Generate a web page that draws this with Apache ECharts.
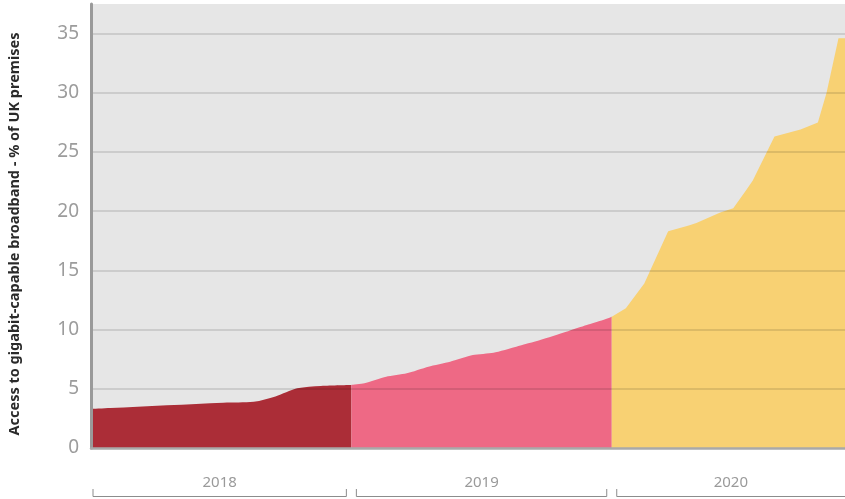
<!DOCTYPE html>
<html>
<head>
<meta charset="utf-8">
<script src="https://cdn.jsdelivr.net/npm/echarts@6/dist/echarts.min.js"></script>
<style>
  html, body { margin: 0; padding: 0; background: #ffffff; }
  #chart { width: 845px; height: 499px; }
</style>
</head>
<body>
<div id="chart"></div>
<script>
// Gigabit-capable broadband coverage, % of UK premises.
// x = months since January 2018, y = coverage share.
const months2018 = [0, 0.9, 6.1, 7.5, 8.5, 9.5, 10.6, 12];
const share2018 = [3.3, 3.38, 3.83, 3.91, 4.35, 5.04, 5.24, 5.32];

const months2019 = [12, 12.6, 13.6, 14.55, 15.55, 16.55, 17.6, 18.55, 19.6, 20.7, 21.9, 22.85, 23.6, 24];
const share2019 = [5.32, 5.46, 6.02, 6.31, 6.87, 7.29, 7.85, 8.05, 8.56, 9.12, 9.82, 10.39, 10.81, 11.09];

const months2020 = [24, 24.65, 25.5, 26.6, 27.55, 27.9, 29.0, 29.6, 30.2, 30.5, 31.5, 32.7, 33.5, 33.9, 34.45, 34.75];
const share2020 = [11.09, 11.8, 13.9, 18.3, 18.8, 19.0, 19.9, 20.25, 21.8, 22.6, 26.3, 26.9, 27.5, 30.0, 34.6, 34.6];

// Year bands along the time axis
const yearLabels = ['2018', '2019', '2020'];
const yearStart = [0, 12, 24];
const yearEnd = [12, 24, 34.75];

const yTitle = 'Access to gigabit-capable broadband - % of UK premises';

const pairs = (xs, ys) => xs.map((x, i) => [x, ys[i]]);

function areaSeries(name, xs, ys, color, smooth) {
  return {
    name: name,
    type: 'line',
    data: pairs(xs, ys),
    showSymbol: false,
    smooth: smooth,
    lineStyle: { width: 0 },
    areaStyle: { color: color, opacity: 1 },
    itemStyle: { color: color },
    z: 2,
    silent: true
  };
}

const chart = echarts.init(document.getElementById('chart'), null, { renderer: 'canvas' });

chart.setOption({
  animation: false,
  backgroundColor: '#ffffff',
  grid: {
    left: 91, right: 0, top: 4, bottom: 51,
    outerBoundsMode: 'none',
    containLabel: false,
    show: true, backgroundColor: '#e6e6e6', borderWidth: 0
  },
  xAxis: {
    type: 'value',
    min: 0,
    max: 34.75,
    z: 5,
    axisLine: { show: true, lineStyle: { color: '#a9a9a9', width: 2.5 } },
    axisTick: { show: false },
    axisLabel: { show: false },
    splitLine: { show: false }
  },
  yAxis: {
    type: 'value',
    min: 0,
    max: 37.5,
    interval: 5,
    z: 5,
    name: yTitle,
    nameLocation: 'middle',
    nameGap: 69,
    nameTextStyle: {
      fontFamily: 'Noto Sans', fontWeight: 'bold', fontSize: 14.5, color: '#2a2a2a',
      padding: [0, 16, 0, 0]
    },
    axisLine: { show: true, lineStyle: { color: '#9a9a9a', width: 3 } },
    axisTick: { show: false },
    axisLabel: {
      margin: 12, fontFamily: 'Noto Sans', fontSize: 19, color: '#9c9c9c',
      showMaxLabel: false
    },
    splitLine: {
      show: true, showMinLine: false, showMaxLine: false,
      lineStyle: { color: 'rgba(0,0,0,0.15)', width: 1.5 }
    }
  },
  series: [
    areaSeries('2018', months2018, share2018, '#ab2d37', 0.3),
    areaSeries('2019', months2019, share2019, '#ee6985', 0.2),
    areaSeries('2020', months2020, share2020, '#f8d173', false),
    {
      name: 'years',
      type: 'custom',
      clip: false,
      silent: true,
      data: yearStart.map((s, i) => [s, yearEnd[i], 0]),
      encode: { x: [0, 1], y: 2 },
      renderItem: function (params, api) {
        const a = api.coord([api.value(0), 0]);
        const b = api.coord([api.value(1), 0]);
        const last = params.dataIndex === yearLabels.length - 1;
        const x0 = a[0] + (params.dataIndex === 0 ? 2 : 5);
        const x1 = last ? b[0] + 10 : b[0] - 5;
        const base = a[1];
        const lineY = base + 48.5;
        const tickTop = base + 41;
        return {
          type: 'group',
          children: [
            {
              type: 'polyline',
              shape: { points: [[x0, tickTop], [x0, lineY], [x1, lineY], [x1, tickTop]] },
              style: { stroke: '#8c8c8c', lineWidth: 1, fill: null }
            },
            {
              type: 'text',
              style: {
                text: yearLabels[params.dataIndex],
                x: (x0 + Math.min(x1, 845)) / 2,
                y: base + 35,
                align: 'center',
                verticalAlign: 'middle',
                fontFamily: 'Noto Sans',
                fontSize: 15,
                fill: '#9a9a9a'
              }
            }
          ]
        };
      },
      z: 6
    }
  ]
});
</script>
</body>
</html>
